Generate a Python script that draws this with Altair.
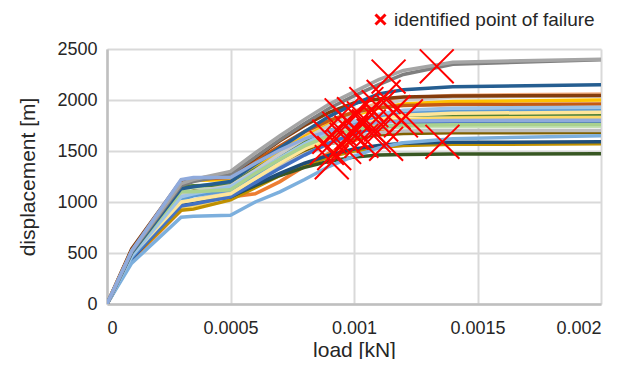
import altair as alt
import pandas as pd

# load grid [kN]
loads = [0, 0.0001, 0.0003, 0.00035, 0.0005, 0.0006, 0.0007, 0.0008, 0.0009, 0.001, 0.0011, 0.0012, 0.0014, 0.002]

series_colors = [
    "#F4B183", "#ED7D31", "#FFD966", "#BF9000", "#385723", "#1F4E79", "#7F6000",
    "#BFBFBF", "#C5E0B4", "#4472C4", "#FFC000", "#548235", "#5B9BD5", "#C9C9C9",
    "#C55A11", "#FFE699", "#7CAFDD", "#9DC3E6", "#A9D18E", "#843C0C", "#255E91",
    "#7F7F7F", "#A5A5A5", "#8FAADC",
]

series_values = [
    [0, 490, 1100, 1120, 1180, 1340, 1500, 1650, 1780, 1890, 1970, 2020, 2045, 2060],
    [0, 430, 920, 1010, 1050, 1080, 1200, 1350, 1480, 1600, 1700, 1770, 1800, 1810],
    [0, 470, 940, 960, 1060, 1220, 1370, 1500, 1620, 1710, 1780, 1810, 1825, 1830],
    [0, 450, 920, 930, 1020, 1140, 1260, 1360, 1440, 1500, 1535, 1555, 1565, 1570],
    [0, 460, 1000, 1010, 1050, 1160, 1260, 1340, 1400, 1440, 1460, 1466, 1470, 1472],
    [0, 440, 980, 1000, 1050, 1170, 1280, 1380, 1460, 1520, 1555, 1575, 1585, 1590],
    [0, 470, 1100, 1110, 1130, 1260, 1380, 1490, 1570, 1630, 1660, 1672, 1678, 1682],
    [0, 460, 1000, 1020, 1100, 1220, 1350, 1470, 1570, 1640, 1680, 1695, 1700, 1702],
    [0, 490, 1120, 1140, 1160, 1300, 1430, 1550, 1640, 1700, 1725, 1735, 1740, 1742],
    [0, 450, 960, 980, 1050, 1190, 1330, 1460, 1580, 1670, 1730, 1760, 1775, 1780],
    [0, 500, 1200, 1210, 1220, 1360, 1500, 1640, 1760, 1850, 1920, 1960, 1985, 2000],
    [0, 480, 1150, 1160, 1170, 1320, 1460, 1590, 1700, 1780, 1830, 1850, 1858, 1862],
    [0, 460, 1020, 1060, 1120, 1260, 1400, 1540, 1660, 1760, 1830, 1870, 1890, 1900],
    [0, 480, 1080, 1100, 1160, 1310, 1470, 1620, 1750, 1860, 1950, 2000, 2030, 2040],
    [0, 530, 1200, 1220, 1240, 1400, 1550, 1690, 1800, 1880, 1925, 1945, 1955, 1960],
    [0, 480, 1000, 1020, 1080, 1230, 1380, 1520, 1640, 1740, 1810, 1850, 1870, 1880],
    [0, 400, 850, 860, 870, 1000, 1100, 1220, 1350, 1450, 1530, 1580, 1620, 1650],
    [0, 470, 1050, 1080, 1150, 1290, 1430, 1570, 1690, 1790, 1860, 1900, 1920, 1930],
    [0, 500, 1100, 1100, 1120, 1280, 1420, 1550, 1650, 1710, 1740, 1752, 1758, 1760],
    [0, 540, 1210, 1230, 1260, 1430, 1600, 1750, 1880, 1970, 2010, 2030, 2040, 2045],
    [0, 500, 1130, 1150, 1200, 1370, 1530, 1690, 1840, 1960, 2060, 2100, 2130, 2150],
    [0, 510, 1160, 1200, 1270, 1440, 1610, 1770, 1920, 2040, 2150, 2250, 2350, 2395],
    [0, 520, 1180, 1220, 1300, 1480, 1650, 1810, 1960, 2080, 2200, 2290, 2370, 2400],
    [0, 520, 1220, 1240, 1240, 1380, 1510, 1620, 1700, 1750, 1780, 1795, 1800, 1802],
]

# identified points of failure
fail_load = [0.001335, 0.001358, 0.00114, 0.00112, 0.00105, 0.00100, 0.00098, 0.00094,
             0.00090, 0.00092, 0.00096, 0.00101, 0.00104, 0.00107, 0.00110, 0.00116,
             0.00119, 0.00121, 0.00108, 0.00103, 0.00099, 0.00095, 0.00111, 0.00113,
             0.00089, 0.00097, 0.00091, 0.00106]
fail_disp = [2330, 1590, 2230, 2030, 1960, 1860, 1780, 1720, 1640, 1480, 1540, 1700,
             1820, 1900, 1930, 1880, 1800, 1840, 1650, 1600, 1680, 1850, 1760, 1570,
             1530, 1610, 1390, 1740]

legend_label = "identified point of failure"

names = [f"s{i:02d}" for i in range(len(series_values))]
rows = []
for n, vals in zip(names, series_values):
    for x, y in zip(loads, vals):
        rows.append({"series": n, "load": x, "disp": y})
lines_df = pd.DataFrame(rows)
fail_df = pd.DataFrame({"load": fail_load, "disp": fail_disp, "label": legend_label})

FONT = "Liberation Sans"
XPATH = "M-1,-1L1,1M1,-1L-1,1"

xscale = alt.Scale(domain=[0, 0.002], nice=False)
yscale = alt.Scale(domain=[0, 2500], nice=False)

xaxis = alt.Axis(values=[0, 0.0005, 0.001, 0.0015, 0.002], labelExpr="'' + datum.value",
                 title="load [kN]", grid=True)
yaxis = alt.Axis(values=[0, 500, 1000, 1500, 2000, 2500], format="d",
                 title="displacement [m]", grid=True)

lines = alt.Chart(lines_df).mark_line(strokeWidth=3.5, clip=True).encode(
    x=alt.X("load:Q", scale=xscale, axis=xaxis),
    y=alt.Y("disp:Q", scale=yscale, axis=yaxis),
    color=alt.Color("series:N", scale=alt.Scale(domain=names, range=series_colors), legend=None),
    order=alt.Order("load:Q"),
)

marks = alt.Chart(fail_df).mark_point(shape=XPATH, size=1150, filled=False, strokeWidth=2, opacity=1).encode(
    x=alt.X("load:Q", scale=xscale),
    y=alt.Y("disp:Q", scale=yscale),
    stroke=alt.Stroke("label:N", scale=alt.Scale(range=["#FF0000"]),
                      legend=alt.Legend(title=None, orient="none", legendX=264, legendY=-39,
                                        symbolType=XPATH, symbolSize=100, symbolStrokeWidth=3,
                                        labelFont=FONT, labelFontSize=19, labelColor="#262626",
                                        labelLimit=0, symbolOffset=0, labelOffset=4)),
)

chart = alt.layer(lines, marks).resolve_scale(color="independent", stroke="independent").properties(
    width=494, height=255,
    autosize=alt.AutoSizeParams(type="none"),
    padding={"left": 99, "top": 41, "right": 15, "bottom": 55},
).configure_view(stroke=None).configure_axis(
    gridColor="#D9D9D9", gridWidth=2, domainColor="#BFBFBF", domainWidth=2.5,
    ticks=False, labelFont=FONT, labelFontSize=18, labelColor="#262626",
    titleFont=FONT, titleFontSize=21, titleFontWeight="normal", titleColor="#262626",
).configure_axisX(labelPadding=15, titlePadding=2).configure_axisY(labelPadding=10, titlePadding=18)

chart.save("out.html", embed_options={"renderer": "svg", "actions": False})
